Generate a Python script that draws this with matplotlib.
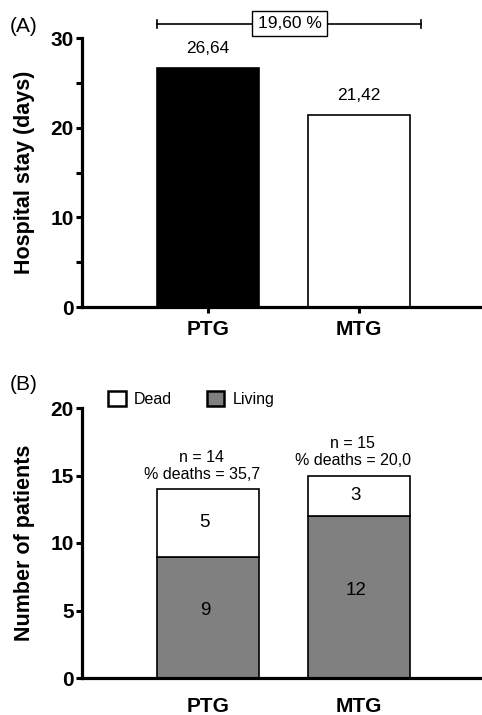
import numpy as np
import matplotlib
matplotlib.use("Agg")
import matplotlib.pyplot as plt
from matplotlib.patches import Patch

plt.rcParams['font.family'] = ['Liberation Sans', 'DejaVu Sans']

# data
groups = ['PTG', 'MTG']
stay = [26.64, 21.42]
stay_labels = ['26,64', '21,42']
diff_label = '19,60 %'
living = [9, 12]
dead = [5, 3]
n_labels = ['n = 14\n% deaths = 35,7', 'n = 15\n% deaths = 20,0']

x = np.arange(len(groups))
W, H = 482, 715
fig = plt.figure(figsize=(W / 100, H / 100), dpi=100)

spine_w = 2.3
bar_w = 0.67
xlim = (-0.834, 1.815)

# ---- (A)
axA = fig.add_axes([82 / W, 1 - 307 / H, 400 / W, 269 / H])
axA.bar(x, stay, width=bar_w, color=['black', 'white'], edgecolor='black', linewidth=1.2)
for xi, v, s in zip(x, stay, stay_labels):
    axA.text(xi, v + 2.15, s, ha='center', va='center', fontsize=12.5)
axA.set_xlim(xlim)
axA.set_ylim(0, 30)
axA.set_yticks([0, 10, 20, 30])
axA.set_yticks([5, 15, 25], minor=True)
axA.set_xticks(x)
axA.set_xticklabels(groups, fontsize=15, fontweight='bold')
axA.set_ylabel('Hospital stay (days)', fontsize=15.5, fontweight='bold', labelpad=11)
axA.tick_params(axis='y', which='both', length=4, width=2.2, labelsize=15, pad=2)
axA.tick_params(axis='x', length=4, width=2.2, pad=5)
for lab in axA.get_yticklabels():
    lab.set_fontweight('bold')
for s in ['top', 'right']:
    axA.spines[s].set_visible(False)
for s in ['left', 'bottom']:
    axA.spines[s].set_linewidth(spine_w)

# bracket with percent difference
yb = 31.6
xr = 1.41
axA.plot([x[0] - bar_w / 2, xr], [yb, yb], color='black', lw=1.2, clip_on=False)
for xe in [x[0] - bar_w / 2, xr]:
    axA.plot([xe, xe], [yb - 0.45, yb + 0.45], color='black', lw=1.2, clip_on=False)
axA.text(0.54, yb, diff_label, ha='center', va='center', fontsize=12.5,
         bbox=dict(boxstyle='square,pad=0.3', fc='white', ec='black', lw=1.0))
fig.text(10 / W, 1 - 26 / H, '(A)', fontsize=15, va='center', ha='left')

# ---- (B)
axB = fig.add_axes([82 / W, 1 - 678 / H, 400 / W, 270 / H])
axB.bar(x, living, width=bar_w, color='#808080', edgecolor='black', linewidth=1.2, label='Living')
axB.bar(x, dead, width=bar_w, bottom=living, color='white', edgecolor='black', linewidth=1.2, label='Dead')
for xi, l, d in zip(x, living, dead):
    axB.text(xi - 0.02, l / 2 + 0.5, str(l), ha='center', va='center', fontsize=13.5)
    axB.text(xi - 0.02, l + d / 2, str(d), ha='center', va='center', fontsize=13.5)
    axB.text(xi - 0.04, l + d + 0.55, n_labels[xi], ha='center', va='bottom', fontsize=11.5, linespacing=1.15)
axB.set_xlim(xlim)
axB.set_ylim(0, 20)
axB.set_yticks([0, 5, 10, 15, 20])
axB.set_xticks(x)
axB.set_xticklabels(groups, fontsize=15, fontweight='bold')
axB.set_ylabel('Number of patients', fontsize=15.5, fontweight='bold', labelpad=11)
axB.tick_params(axis='y', length=4, width=2.2, labelsize=15, pad=2)
axB.tick_params(axis='x', length=0, pad=14)
for lab in axB.get_yticklabels():
    lab.set_fontweight('bold')
for s in ['top', 'right']:
    axB.spines[s].set_visible(False)
for s in ['left', 'bottom']:
    axB.spines[s].set_linewidth(spine_w)

handles = [Patch(fc='white', ec='black', lw=1.8), Patch(fc='#808080', ec='black', lw=1.8)]
axB.legend(handles, ['Dead', 'Living'], ncol=2, frameon=False, fontsize=11.5,
           loc='center left', bbox_to_anchor=(0.065, 1.035), borderpad=0, borderaxespad=0,
           handlelength=1.1, handleheight=1.1, handletextpad=0.5, columnspacing=2.2)
fig.text(10 / W, 1 - 384 / H, '(B)', fontsize=15, va='center', ha='left')

fig.savefig('out.png', dpi=100)
